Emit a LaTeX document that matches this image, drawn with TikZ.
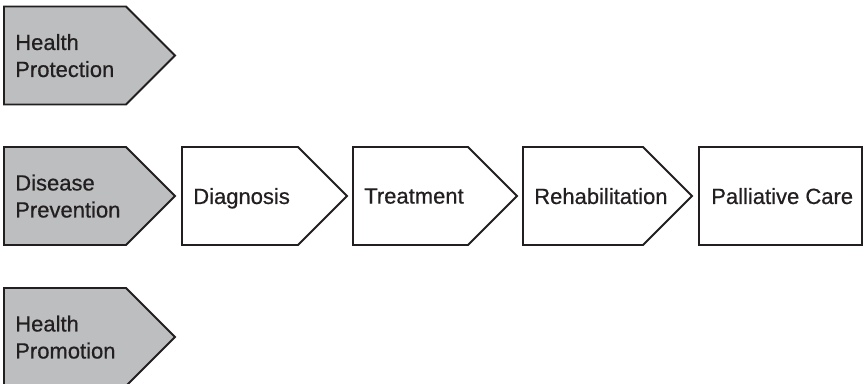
\documentclass[tikz,border=0pt]{standalone}
\usepackage{fontspec}
\setmainfont{Liberation Sans}
\newfontfamily\stageFont[FakeBold=0.6]{Liberation Sans}
\usetikzlibrary{positioning}
\definecolor{inkDark}{HTML}{231F20}
\definecolor{stageGray}{HTML}{BCBEC0}
\tikzset{
    stageWhite/.style={draw=inkDark, fill=white, line width=1.4pt, line join=miter},
    stageGray/.style={draw=inkDark, fill=stageGray, line width=1.4pt, line join=miter},
    stageText/.style={anchor=west, inner sep=0pt, align=left, text depth=0pt, text=inkDark, font=\stageFont\fontsize{16.5}{20.25}\selectfont},
}
% arrow-shaped stage: #2 name, #3 left x, #4 centre y, #5 body width, #6 text
\newcommand{\drawStage}[6][stageWhite]{
    \draw[#1] (#3,#4-49) -- ++(#5,0) -- ++(49,49) -- ++(-49,49) -- ++(-#5,0) -- cycle;
    \node[stageText] (#2) at (#3+11,#4) {#6};
}

\begin{document}
\begin{tikzpicture}[x=0.75pt, y=-0.75pt]
    \useasboundingbox (0,0) rectangle (865,383);

    \drawStage[stageGray]{HP}{4}{55.5}{122}{Health\\Protection}
    \drawStage[stageGray]{DP}{4}{196}{122}{Disease\\Prevention}
    \drawStage[stageGray]{HPr}{4}{337}{122}{Health\\Promotion}

    \drawStage{Dg}{182}{196}{116}{Diagnosis}
    \drawStage{Tr}{353}{196}{115}{Treatment}
    \drawStage{Rh}{523}{196}{120}{Rehabilitation}
    % last stage has no point
    \draw[stageWhite] (699,147) rectangle (862,245);
    \node[stageText] (PC) at (711,196) {Palliative Care};

\end{tikzpicture}
\end{document}
